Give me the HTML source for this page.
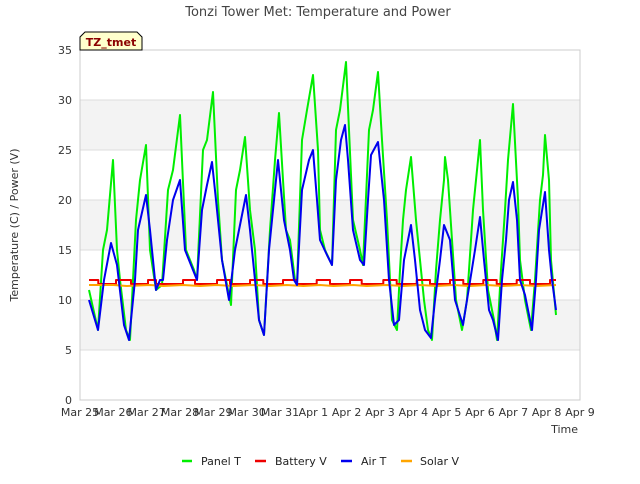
<!DOCTYPE html>
<html><head><meta charset="utf-8"><style>
body{margin:0;background:#fff;font-family:"DejaVu Sans","Liberation Sans",sans-serif;}
svg text{font-family:"DejaVu Sans","Liberation Sans",sans-serif;}
</style></head><body>
<svg id="chart" width="640" height="480" viewBox="0 0 640 480" xmlns="http://www.w3.org/2000/svg">
<rect width="640" height="480" fill="#fff"/>
<text x="318" y="16" text-anchor="middle" font-size="13" fill="#444">Tonzi Tower Met: Temperature and Power</text>
<g id="plot"></g>
<text transform="translate(18,225) rotate(-90)" text-anchor="middle" font-size="11" fill="#333">Temperature (C) / Power (V)</text>
<text x="578" y="433" text-anchor="end" font-size="11" fill="#333">Time</text>
<g font-size="11" fill="#222">
<g><line x1="182" y1="461" x2="192" y2="461" stroke="#00ee00" stroke-width="2.5"/><text x="201" y="465">Panel T</text></g>
<g><line x1="255" y1="461" x2="266" y2="461" stroke="#ee0000" stroke-width="2.5"/><text x="275" y="465">Battery V</text></g>
<g><line x1="341" y1="461" x2="352" y2="461" stroke="#0000ee" stroke-width="2.5"/><text x="361" y="465">Air T</text></g>
<g><line x1="401" y1="461" x2="412" y2="461" stroke="#ffa500" stroke-width="2.5"/><text x="420" y="465">Solar V</text></g>
</g>
<g>
<path d="M80,50 L80,37 L85,32 L137,32 L142,37 L142,50 Z" fill="#ffffcc" stroke="#000" stroke-width="1"/>
<text x="111" y="46" text-anchor="middle" font-size="11" font-weight="bold" fill="#8b0000">TZ_tmet</text>
</g>
</svg>
<script>
const xTickLabels=["Mar 25","Mar 26","Mar 27","Mar 28","Mar 29","Mar 30","Mar 31","Apr 1","Apr 2","Apr 3","Apr 4","Apr 5","Apr 6","Apr 7","Apr 8","Apr 9"];
const yTicks=[0,5,10,15,20,25,30,35];
const panelDays=[0.27,0.54,0.69,0.81,0.99,1.11,1.2,1.38,1.5,1.68,1.8,1.98,2.1,2.28,2.46,2.64,2.79,3.0,3.18,3.42,3.51,3.69,3.81,3.99,4.14,4.26,4.53,4.68,4.8,4.95,5.1,5.25,5.37,5.52,5.7,5.85,5.97,6.18,6.3,6.45,6.51,6.66,6.81,6.99,7.14,7.2,7.35,7.56,7.68,7.8,7.98,8.07,8.19,8.4,8.49,8.67,8.79,8.94,9.06,9.21,9.36,9.51,9.6,9.69,9.78,9.93,10.08,10.32,10.44,10.56,10.68,10.8,10.92,10.95,11.04,11.16,11.28,11.46,11.61,11.79,11.94,12.0,12.09,12.24,12.42,12.51,12.63,12.75,12.84,12.99,13.14,13.2,13.35,13.53,13.65,13.8,13.89,13.95,14.07,14.13,14.28];
const panelVals=[11,7,15,17,24,15,12,7,6,18,22,25.5,15,11,11.5,21,23,28.5,15,13,12,25,26,30.8,20,14,9.5,21,23,26.3,19,15,8,6.5,17,24,28.7,17,16,12,11.5,26,29,32.5,25,17,15,13.5,27,29,33.8,27,18,15,13.5,27,29,32.8,26,18,8,7,13,18,21,24.3,18,10,7,6,13,18,22,24.3,22,16,10,7,10,19,24,26,19,11,8,6,13,19,24,29.6,20,14,10,7,12,20,22.5,26.5,22,14,8.5];
const airDays=[0.27,0.54,0.72,0.93,1.11,1.32,1.47,1.65,1.74,1.98,2.1,2.28,2.4,2.49,2.61,2.79,3.0,3.15,3.39,3.51,3.66,3.81,3.96,4.08,4.26,4.47,4.65,4.83,4.98,5.1,5.25,5.37,5.52,5.67,5.82,5.94,6.12,6.3,6.42,6.51,6.66,6.87,6.99,7.11,7.2,7.41,7.56,7.68,7.83,7.95,8.04,8.19,8.4,8.52,8.64,8.73,8.94,9.12,9.27,9.42,9.57,9.72,9.93,10.05,10.2,10.35,10.53,10.65,10.8,10.92,11.1,11.25,11.49,11.61,11.85,12.0,12.12,12.27,12.39,12.54,12.66,12.78,12.87,12.99,13.11,13.2,13.35,13.56,13.68,13.77,13.95,14.07,14.16,14.28];
const airVals=[10,7,12,15.7,13.5,7.5,6,12,17,20.5,17,11,12,12,16,20,22,15,13,12,19,21.5,23.8,20,14,10,15,18,20.5,17,12,8,6.5,15,20,24,18,15,12,11.5,21,24,25,20,16,14.5,13.5,22,26,27.5,24,17,14,13.5,20,24.5,25.8,20,12,7.5,8,14,17.5,14,9,7,6.2,10,14,17.5,16,10,7.5,10,15,18.3,14,9,8,6,12,16,20,21.8,18,12,10.5,7,12,17,20.8,15,12,9];
const batteryDays=[0.27,0.55,0.55,1.08,1.08,1.53,1.53,2.04,2.04,2.28,2.28,3.09,3.09,3.45,3.45,4.11,4.11,4.5,4.5,5.1,5.1,5.5,5.5,6.09,6.09,6.5,6.5,7.1,7.1,7.5,7.5,8.1,8.1,8.45,8.45,9.1,9.1,9.5,9.5,10.1,10.1,10.5,10.5,11.1,11.1,11.5,11.5,12.1,12.1,12.5,12.5,13.1,13.1,13.5,13.5,14.1,14.1,14.28];
const batteryVals=[12,12,11.6,11.6,12,12,11.6,11.6,12,12,11.6,11.6,12,12,11.6,11.6,12,12,11.6,11.6,12,12,11.6,11.6,12,12,11.6,11.6,12,12,11.6,11.6,12,12,11.6,11.6,12,12,11.6,11.6,12,12,11.6,11.6,12,12,11.6,11.6,12,12,11.6,11.6,12,12,11.6,11.6,12,12];
const solarDays=[0.27,1.0,1.4,2.1,2.5,3.1,3.6,4.1,4.6,5.2,5.7,6.2,6.7,7.2,7.6,8.2,8.6,9.2,9.7,10.2,10.7,11.2,11.7,12.2,12.7,13.2,13.7,14.28];
const solarVals=[11.5,11.5,11.4,11.5,11.4,11.5,11.4,11.5,11.4,11.5,11.4,11.5,11.4,11.5,11.4,11.5,11.4,11.5,11.4,11.5,11.4,11.5,11.4,11.5,11.4,11.5,11.4,11.5];

const X0=80,X1=580,Y0=400,Y1=50;
const xScale=d=>X0+d*(X1-X0)/15;
const yScale=v=>Y0-v*(Y0-Y1)/35;
const NS="http://www.w3.org/2000/svg";
const plot=document.getElementById('plot');
function mk(tag,attrs){const e=document.createElementNS(NS,tag);for(const k in attrs)e.setAttribute(k,attrs[k]);return e;}
for(let i=0;i<yTicks.length-1;i++){
  const r=mk('rect',{x:X0,y:yScale(yTicks[i+1]),width:X1-X0,height:yScale(yTicks[i])-yScale(yTicks[i+1]),fill:i%2===1?'#f3f3f3':'#ffffff'});
  
  
  plot.appendChild(r);
}
yTicks.forEach(v=>{
  const l=mk('line',{x1:X0,x2:X1,y1:yScale(v),y2:yScale(v),stroke:'#dcdcdc','stroke-width':1});
  
  
  plot.appendChild(l);
  const t=mk('text',{x:X0-8,y:yScale(v)+4,'text-anchor':'end','font-size':11,fill:'#333'});
  
  
  t.textContent=v;plot.appendChild(t);
});
const frame=mk('rect',{x:X0,y:Y1,width:X1-X0,height:Y0-Y1,fill:'none',stroke:'#ccc'});


plot.appendChild(frame);
xTickLabels.forEach((s,i)=>{
  const t=mk('text',{x:xScale(i),y:Y0+16,'text-anchor':'middle','font-size':11,fill:'#333'});
  
  
  t.textContent=s;plot.appendChild(t);
});
function series(days,vals,color,name){
  const p=mk('polyline',{points:days.map((d,i)=>xScale(d).toFixed(1)+','+yScale(vals[i]).toFixed(1)).join(' '),fill:'none',stroke:color,'stroke-width':2,'stroke-linejoin':'round'});
  
  
  plot.appendChild(p);
}
series(panelDays,panelVals,'#00ee00','panel-t-line');
series(batteryDays,batteryVals,'#ee0000','battery-v-line');
series(solarDays,solarVals,'#ffa500','solar-v-line');
series(airDays,airVals,'#0000ee','air-t-line');
</script>
</body></html>
